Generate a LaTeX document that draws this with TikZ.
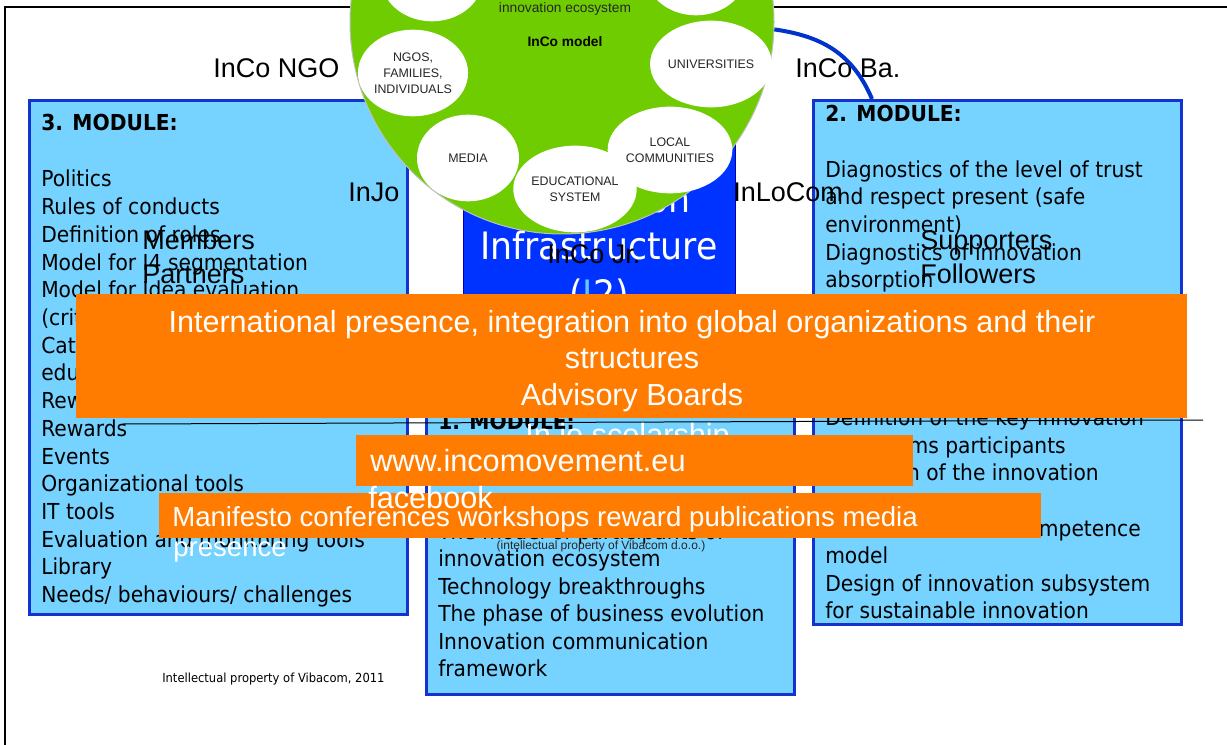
\documentclass[tikz,border=0pt]{standalone}
\usepackage{fontspec}
\setmainfont{Liberation Sans}
\newfontfamily\tah[FakeStretch=0.92]{DejaVu Sans}
\usetikzlibrary{shapes.geometric}
\definecolor{lblue}{RGB}{118,210,255}
\definecolor{mborder}{RGB}{20,50,210}
\definecolor{iblue}{RGB}{0,51,255}
\definecolor{orng}{RGB}{255,124,0}
\definecolor{lime}{RGB}{110,204,0}
\definecolor{curveblue}{RGB}{0,51,204}
\definecolor{ilight}{RGB}{100,200,255}
\begin{document}
\begin{tikzpicture}[x=0.75pt,y=-0.75pt,
  modbox/.style={draw=mborder, line width=2.25pt, fill=lblue, anchor=north west, inner sep=0pt},
  modtxt/.style={anchor=base west, inner sep=0pt, font=\tah\fontsize{16.5}{20}\selectfont},
  modtxte/.style={modtxt, anchor=base east},
  modhead/.style={modtxt, font=\tah\bfseries\fontsize{16.5}{20}\selectfont},
  lbl/.style={anchor=base west, inner sep=0pt, font=\fontsize{20.25}{24}\selectfont},
  obox/.style={fill=orng, anchor=north west, inner sep=0pt},
  wtxt/.style={anchor=base west, inner sep=0pt, text=white, font=\fontsize{23}{27}\selectfont},
  wtxts/.style={wtxt, font=\fontsize{20.7}{25}\selectfont},
  otxt/.style={anchor=base, inner sep=0pt, text=white, font=\fontsize{22.9}{27}\selectfont},
  infratxt/.style={anchor=base, inner sep=0pt, text=white, font=\tah\fontsize{28.3}{34}\selectfont},
  eln/.style={ellipse, fill=white, minimum width=76.5pt, minimum height=65pt, inner sep=0pt, align=center, font=\fontsize{9.3}{12}\selectfont, text=black!85},
]
\useasboundingbox (0,0) rectangle (1227,745);
\clip (0,0) rectangle (1227,745);
\fill[white] (0,0) rectangle (1227,745);

% frame
\coordinate (fa) at (5,745);
\coordinate (fb) at (5,7);
\coordinate (fc) at (1227,7);
\draw[line width=1.5pt] (fa) -- (fb) -- (fc);

% Module 3
\node[modbox, minimum width=283.5pt, minimum height=385.5pt] (mthree) at (28,99) {};
\node[modhead] (mthreeh) at (41,130.7) {3. MODULE:};
\foreach \t [count=\i from 0] in {Politics, Rules of conducts, Definition of roles, Model for I4 segmentation, Model for Idea evaluation, {(crit}, Cata, edu, Rew, Rewards, Events, Organizational tools, IT tools, Evaluation and monitoring tools, Library, Needs/ behaviours/ challenges}
  {\node[modtxt] (mthreel\i) at (41,{187+27.7*\i}) {\t};}

% Module 2
\node[modbox, minimum width=276pt, minimum height=393pt] (mtwo) at (812,99) {};
\node[modhead] (mtwoh) at (825,121.7) {2. MODULE:};
\foreach \i/\t in {0/Diagnostics of the level of trust, 1/{and respect present (safe}, 2/{environment)}, 3/Diagnostics of innovation, 4/absorption, 9/Definition of the key innovation, 14/model, 15/Design of innovation subsystem, 16/for sustainable innovation}
  {\node[modtxt] (mtwol\i) at (825,{177.3+27.6*\i}) {\t};}
\node[modtxte] (mtwoa) at (1066,{177.3+27.6*10}) {ms participants};
\node[modtxte] (mtwob) at (1099,{177.3+27.6*11}) {n of the innovation};
\node[modtxte] (mtwoc) at (1141,{177.3+27.6*13}) {mpetence};

% Module 1
\node[modbox, minimum width=276pt, minimum height=216pt] (mone) at (425,405) {};
\node[modhead] (moneh) at (438,429.2) {1. MODULE:};
\foreach \i/\t in {4/The model of participants of, 5/innovation ecosystem, 6/Technology breakthroughs, 7/The phase of business evolution, 8/Innovation communication, 9/framework}
  {\node[modtxt] (monel\i) at (438,{429.2+27.5*\i}) {\t};}

% Infrastructure box
\node[draw=blue!70!black, line width=0.75pt, fill=iblue, anchor=north west, inner sep=0pt, minimum width=204pt, minimum height=150pt] (infra) at (463,130) {};
\node[infratxt] (inf1) at (599,213) {Innovation};
\node[infratxt] (inf2) at (599,260) {Infrastructure};
\node[infratxt] (inf3) at (599,307) {(\textcolor{ilight}{I}2)};

% green circle
\node[circle, fill=lime, draw=black!25, line width=0.75pt, minimum size=318pt, inner sep=0pt] (eco) at (562,22) {};
\node[eln] (etl) at (432,-22) {};
\node[eln] (etr) at (696,-28) {};
\node[eln] (engo) at (413,73) {NGOS,\\FAMILIES,\\INDIVIDUALS};
\node[eln] (euni) at (711,64) {UNIVERSITIES};
\node[eln] (emed) at (468,158) {MEDIA};
\node[eln] (eedu) at (575,189) {EDUCATIONAL\\SYSTEM};
\node[eln] (eloc) at (670,150) {LOCAL\\COMMUNITIES};
\node[inner sep=0pt, font=\fontsize{10.3}{12}\selectfont, text=black!85] (ecot) at (565,9) {innovation ecosystem};
\node[inner sep=0pt, font=\bfseries\fontsize{10.3}{12}\selectfont] (ecom) at (565,42) {InCo model};

% labels
\node[lbl] (lngo) at (213,78) {InCo NGO};
\node[lbl] (lba) at (795,78) {InCo Ba.};
\node[lbl] (ljo) at (348,201.7) {InJo};
\node[lbl] (lloc) at (733,201.7) {InLoCom};
\node[lbl] (lmem) at (142,250) {Members};
\node[lbl] (lpar) at (142,283) {Partners};
\node[lbl] (lsup) at (920,249) {Supporters};
\node[lbl] (lfol) at (920,283) {Followers};
\node[lbl] (ljr) at (547,263) {InCo Jr.};

% blue curve
\coordinate (ce) at (872,99);
\draw[curveblue, line width=3pt] (eco.-2) .. controls (820,36) and (852,52) .. (ce);

% big orange box
\node[obox, minimum width=833.25pt, minimum height=93pt] (obig) at (76,294) {};
\node[otxt] (ot1) at (632,332) {International presence, integration into global organizations and their};
\node[otxt] (ot2) at (632,368) {structures};
\node[otxt] (ot3) at (632,405) {Advisory Boards};

% thin line
\coordinate (la) at (123,424);
\coordinate (lb) at (1203,420);
\draw[line width=0.75pt] (la) -- (lb);

% white texts and small orange boxes
\node[wtxt] (wjo) at (525,445) {In jo scolarship};
\node[obox, minimum width=417.75pt, minimum height=38.25pt] (owww) at (356,435) {};
\node[wtxt] (wwww) at (370,471.7) {www.incomovement.eu};
\node[obox, minimum width=661.5pt, minimum height=33.75pt] (oman) at (159,493) {};
\node[wtxts] (wman) at (172,526) {Manifesto conferences workshops reward publications media};
\node[wtxt] (wfb) at (368,508) {facebook};
\node[wtxts] (wpre) at (173,556.7) {presence};

% small texts
\node[inner sep=0pt, font=\fontsize{9}{11}\selectfont, text=black!85] (ipv) at (601,546) {(intellectual property of Vibacom d.o.o.)};
\node[anchor=base west, inner sep=0pt, font=\tah\fontsize{9.4}{11}\selectfont] (ipy) at (162,682.7) {Intellectual property of Vibacom, 2011};
\end{tikzpicture}
\end{document}
